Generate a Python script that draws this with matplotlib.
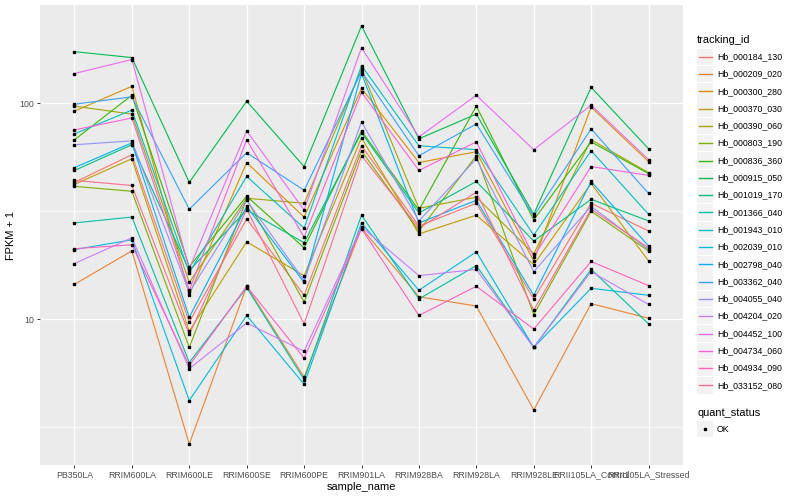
import matplotlib
matplotlib.use("Agg")
import matplotlib.pyplot as plt
import numpy as np
from matplotlib.patches import Rectangle
from matplotlib.ticker import FixedLocator, NullFormatter

plt.rcParams['font.family'] = ['Liberation Sans', 'DejaVu Sans']

samples = ["PB350LA", "RRIM600LA", "RRIM600LE", "RRIM600SE", "RRIM600PE",
           "RRIM901LA", "RRIM928BA", "RRIM928LA", "RRIM928LE",
           "RRII105LA_Control", "RRII105LA_Stressed"]

tracking_ids = ["Hb_000184_130", "Hb_000209_020", "Hb_000300_280", "Hb_000370_030",
                "Hb_000390_060", "Hb_000803_190", "Hb_000836_360", "Hb_000915_050",
                "Hb_001019_170", "Hb_001366_040", "Hb_001943_010", "Hb_002039_010",
                "Hb_002798_040", "Hb_003362_040", "Hb_004055_040", "Hb_004204_020",
                "Hb_004452_100", "Hb_004734_060", "Hb_004934_090", "Hb_033152_080"]

colors = ["#F8766D", "#EA8331", "#D89000", "#C09B00", "#A3A500", "#7CAE00",
          "#39B600", "#00BB4E", "#00BF7D", "#00C1A3", "#00BFC4", "#00BAE0",
          "#00B0F6", "#35A2FF", "#9590FF", "#C77CFF", "#E76BF3", "#FA62DB",
          "#FF62BC", "#FF6C91"]

# FPKM + 1 per sample (same order as samples)
hb_000184_130 = [43.0, 57.7, 9.7, 29.1, 12.9, 63.5, 27.0, 34.4, 12.4, 34.4, 25.6]
hb_000209_020 = [14.5, 20.7, 2.64, 14.2, 5.4, 26.4, 12.7, 11.5, 3.8, 11.8, 10.1]
hb_000300_280 = [91.9, 119.7, 13.0, 53.1, 29.7, 117.2, 53.1, 59.6, 18.6, 95.9, 53.6]
hb_000370_030 = [42.1, 55.3, 8.8, 22.8, 15.9, 69.1, 24.8, 30.3, 17.9, 42.5, 18.6]
hb_000390_060 = [96.9, 89.0, 14.8, 36.3, 34.4, 143.2, 32.6, 36.7, 20.1, 67.7, 47.7]
hb_000803_190 = [41.2, 39.1, 7.4, 35.9, 12.0, 60.2, 25.6, 57.1, 10.5, 31.6, 20.7]
hb_000836_360 = [67.7, 108.8, 17.5, 37.1, 21.4, 74.4, 32.0, 96.9, 28.8, 66.2, 47.2]
hb_000915_050 = [173.2, 162.6, 43.0, 102.1, 50.9, 227.9, 68.4, 89.0, 30.6, 118.4, 61.5]
hb_001019_170 = [48.8, 64.2, 16.8, 32.0, 22.6, 72.9, 31.0, 43.4, 23.0, 35.9, 28.5]
hb_001366_040 = [27.9, 29.7, 6.3, 14.0, 5.25, 30.3, 12.4, 17.7, 7.4, 17.0, 9.5]
hb_001943_010 = [72.1, 92.9, 16.4, 45.8, 26.4, 149.4, 63.5, 60.9, 24.5, 60.2, 30.6]
hb_002039_010 = [21.0, 23.3, 4.2, 10.4, 5.0, 27.9, 13.6, 20.5, 7.4, 13.9, 12.9]
hb_002798_040 = [50.3, 65.5, 10.2, 33.3, 14.8, 137.2, 27.9, 35.5, 12.9, 43.4, 21.8]
hb_003362_040 = [98.9, 107.0, 32.3, 59.0, 39.5, 140.2, 57.1, 80.1, 30.0, 76.0, 38.2]
hb_004055_040 = [64.2, 66.9, 13.3, 35.5, 15.1, 81.8, 28.5, 55.3, 16.6, 33.3, 21.0]
hb_004204_020 = [18.1, 23.8, 5.9, 9.6, 7.1, 26.7, 15.9, 17.0, 7.4, 16.6, 11.7]
hb_004452_100 = [137.2, 159.2, 17.1, 74.4, 32.0, 180.7, 69.8, 108.8, 60.9, 97.9, 54.8]
hb_004734_060 = [75.2, 85.4, 13.6, 67.7, 24.0, 112.3, 48.8, 66.2, 19.5, 50.9, 46.3]
hb_004934_090 = [21.2, 22.1, 6.1, 14.2, 6.6, 26.2, 10.4, 14.2, 9.0, 18.5, 14.3]
hb_033152_080 = [43.9, 41.6, 8.5, 32.3, 9.5, 57.1, 26.4, 38.7, 11.0, 32.3, 21.4]

series = [hb_000184_130, hb_000209_020, hb_000300_280, hb_000370_030, hb_000390_060,
          hb_000803_190, hb_000836_360, hb_000915_050, hb_001019_170, hb_001366_040,
          hb_001943_010, hb_002039_010, hb_002798_040, hb_003362_040, hb_004055_040,
          hb_004204_020, hb_004452_100, hb_004734_060, hb_004934_090, hb_033152_080]

W, H = 800, 500
fig = plt.figure(figsize=(W / 100, H / 100), dpi=100)
fig.patch.set_facecolor("white")

pl, pr, pt, pb = 40, 683, 5, 465
ax = fig.add_axes([pl / W, 1 - pb / H, (pr - pl) / W, (pb - pt) / H])
ax.set_facecolor("#EBEBEB")
for s in ax.spines.values():
    s.set_visible(False)

x = np.arange(len(samples))
for vals, col in zip(series, colors):
    ax.plot(x, vals, color=col, lw=0.8, zorder=2, solid_capstyle="butt")
for vals in series:
    ax.plot(x, vals, ls="none", marker="s", ms=2.1, color="black", zorder=3)

ax.set_yscale("log")
allv = np.concatenate([np.log10(v) for v in series])
lo, hi = allv.min(), allv.max()
pad = (hi - lo) * 0.05
ax.set_ylim(10 ** (lo - pad), 10 ** (hi + pad))
ax.set_xlim(-0.6, len(samples) - 1 + 0.6)

ax.yaxis.set_major_locator(FixedLocator([10, 100]))
ax.yaxis.set_minor_locator(FixedLocator([10 ** 0.5, 10 ** 1.5, 10 ** 2.5]))
ax.yaxis.set_minor_formatter(NullFormatter())
ax.set_yticklabels(["10", "100"])
ax.set_xticks(x)
ax.set_xticklabels(samples)
ax.grid(True, which="major", color="white", lw=1.0)
ax.grid(True, which="minor", axis="y", color="white", lw=0.5)
ax.set_axisbelow(True)
ax.tick_params(axis="both", which="major", length=2.2, width=0.7, color="#333333",
               labelcolor="#4D4D4D", labelsize=6.3, pad=1.8)
ax.tick_params(axis="y", which="minor", length=0)

ax.set_xlabel("sample_name", fontsize=7.9, labelpad=2)
ax.set_ylabel("FPKM + 1", fontsize=7.9, labelpad=3)

# legend overlay in pixel coordinates
ov = fig.add_axes([0, 0, 1, 1], facecolor="none")
ov.set_xlim(0, W)
ov.set_ylim(H, 0)
ov.axis("off")

ov.text(697, 40, "tracking_id", fontsize=7.9, va="center", ha="left")
y0, dy = 56.7, 17.3
for i, (tid, col) in enumerate(zip(tracking_ids, colors)):
    yc = y0 + i * dy
    ov.add_patch(Rectangle((697, yc - 8.2), 16, 16.4, facecolor="#F2F2F2", edgecolor="none"))
    ov.plot([698.5, 711.5], [yc, yc], color=col, lw=1.0)
    ov.text(717, yc, tid, fontsize=6.3, va="center", ha="left")

ov.text(697, 412.7, "quant_status", fontsize=7.9, va="center", ha="left")
ov.add_patch(Rectangle((697, 429 - 8.2), 16, 16.4, facecolor="#F2F2F2", edgecolor="none"))
ov.plot([705], [429], marker="s", ms=2.1, color="black")
ov.text(717, 429, "OK", fontsize=6.3, va="center", ha="left")

fig.savefig("out.png", dpi=100)
